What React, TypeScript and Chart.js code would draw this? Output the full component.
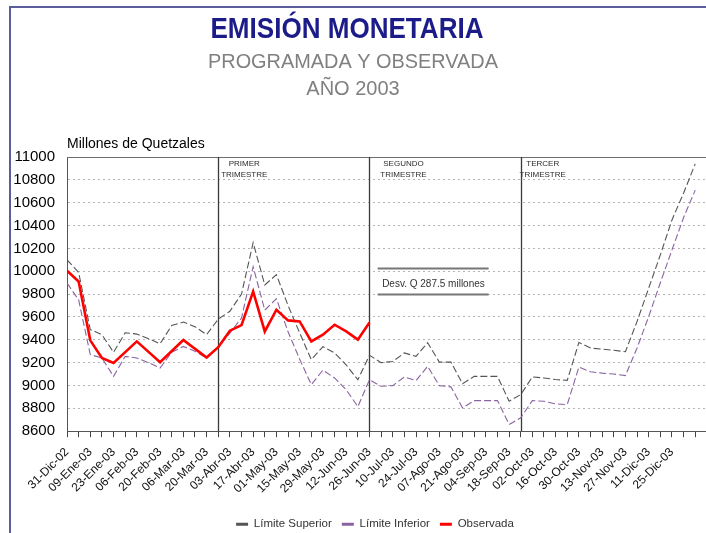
import React, { useEffect, useRef } from "react";
import { Chart, registerables } from "chart.js";

Chart.register(...registerables);

// ---------------- data ----------------
const dates = [
  "31-Dic-02", "02-Ene-03", "09-Ene-03", "16-Ene-03", "23-Ene-03", "30-Ene-03",
  "06-Feb-03", "13-Feb-03", "20-Feb-03", "27-Feb-03", "06-Mar-03", "13-Mar-03",
  "20-Mar-03", "27-Mar-03", "03-Abr-03", "10-Abr-03", "17-Abr-03", "24-Abr-03",
  "01-May-03", "08-May-03", "15-May-03", "22-May-03", "29-May-03", "05-Jun-03",
  "12-Jun-03", "19-Jun-03", "26-Jun-03", "03-Jul-03", "10-Jul-03", "17-Jul-03",
  "24-Jul-03", "31-Jul-03", "07-Ago-03", "14-Ago-03", "21-Ago-03", "28-Ago-03",
  "04-Sep-03", "11-Sep-03", "18-Sep-03", "25-Sep-03", "02-Oct-03", "09-Oct-03",
  "16-Oct-03", "23-Oct-03", "30-Oct-03", "06-Nov-03", "13-Nov-03", "20-Nov-03",
  "27-Nov-03", "04-Dic-03", "11-Dic-03", "18-Dic-03", "25-Dic-03", "30-Dic-03",
  "31-Dic-03",
];
const lastLabelled = "25-Dic-03";

const limiteSuperior = [
  10100, 9990, 9490, 9445, 9290, 9462, 9450, 9410, 9365, 9525, 9555, 9515,
  9445, 9580, 9650, 9800, 10250, 9880, 9970, 9700, 9460, 9226, 9340, 9285,
  9180, 9050, 9265, 9200, 9210, 9285, 9255, 9375, 9205, 9205, 9015, 9080,
  9080, 9080, 8862, 8920, 9075, 9066, 9052, 9045, 9377, 9328, 9318, 9308,
  9296, 9561, 9852, 10143, 10449, 10685, 10940,
];

const limiteInferior = [
  9896, 9750, 9270, 9241, 9080, 9255, 9241, 9200, 9153, 9290, 9342, 9300,
  9241, 9335, 9459, 9590, 10040, 9660, 9760, 9470, 9230, 9008, 9135, 9066,
  8962, 8815, 9050, 8993, 8999, 9075, 9043, 9168, 8999, 8988, 8804, 8868,
  8868, 8868, 8659, 8717, 8868, 8862, 8839, 8833, 9162, 9120, 9108, 9100,
  9087, 9328, 9604, 9899, 10187, 10470, 10710,
];

const observada: (number | null)[] = [
  10005, 9910, 9395, 9241, 9197, null, 9386, null, 9203, null, 9398, null,
  9245, 9335, 9480, 9528, 9823, 9473, 9663, 9570, 9561, 9386, 9445, 9532,
  9473, 9401, 9552,
];

const seriesNames = ["Límite Superior", "Límite Inferior", "Observada"];
const yMin = 8600;
const yMax = 11000;
const yStep = 200;

const quarterEnds = ["27-Mar-03", "26-Jun-03", "25-Sep-03"];
const quarterNames = [
  ["PRIMER", "TRIMESTRE"],
  ["SEGUNDO", "TRIMESTRE"],
  ["TERCER", "TRIMESTRE"],
];
const titleText = "EMISIÓN MONETARIA";
const subtitleLines = ["PROGRAMADA Y OBSERVADA", "AÑO 2003"];
const unitLabel = "Millones de Quetzales";
const deviationNote = "Desv. Q 287.5 millones";

// ---------------- styling / layout ----------------
const FONT = '"Liberation Sans", Arial, Helvetica, sans-serif';
const quarterLabelOffsets = [26, 34, 22];

const decorPlugin = {
  id: "decor",
  beforeDatasetsDraw(chart: any) {
    const { ctx, chartArea: a, scales } = chart;
    const x = scales.x;
    const y = scales.y;
    ctx.save();
    // top border of plot area
    ctx.strokeStyle = "#6e6e6e";
    ctx.lineWidth = 1;
    ctx.beginPath();
    ctx.moveTo(a.left, a.top + 0.5);
    ctx.lineTo(a.right, a.top + 0.5);
    ctx.stroke();

    // quarter separators
    ctx.strokeStyle = "#3a3a3a";
    ctx.lineWidth = 1.3;
    quarterEnds.forEach((d) => {
      const px = Math.round(x.getPixelForValue(dates.indexOf(d))) + 0.5;
      ctx.beginPath();
      ctx.moveTo(px, a.top);
      ctx.lineTo(px, a.bottom);
      ctx.stroke();
    });

    // deviation note box lines
    const x0 = x.getPixelForValue(26.7);
    const x1 = x.getPixelForValue(36.24);
    const yA = Math.round(y.getPixelForValue(10027)) + 0.5;
    const yB = Math.round(y.getPixelForValue(9800)) + 0.5;
    ctx.strokeStyle = "#777777";
    ctx.lineWidth = 2;
    ctx.beginPath();
    ctx.moveTo(x0, yA);
    ctx.lineTo(x1, yA);
    ctx.moveTo(x0, yB);
    ctx.lineTo(x1, yB);
    ctx.stroke();
    ctx.restore();
  },
  afterDraw(chart: any) {
    const { ctx, chartArea: a, scales } = chart;
    const x = scales.x;
    const y = scales.y;
    ctx.save();
    // titles
    ctx.textAlign = "center";
    ctx.textBaseline = "alphabetic";
    ctx.fillStyle = "#1b1b8a";
    ctx.font = `bold 30px ${FONT}`;
    ctx.fillText(titleText, 347, 38, 273);
    ctx.fillStyle = "#808080";
    ctx.font = `20px ${FONT}`;
    ctx.fillText(subtitleLines[0], 353, 68, 290);
    ctx.fillText(subtitleLines[1], 353, 95);

    // unit label
    ctx.textAlign = "left";
    ctx.fillStyle = "#000000";
    ctx.font = `14px ${FONT}`;
    ctx.fillText(unitLabel, a.left, 147.5);

    // quarter labels
    ctx.textAlign = "center";
    ctx.fillStyle = "#2a2a2a";
    ctx.font = `8px ${FONT}`;
    quarterEnds.forEach((d, k) => {
      const px = x.getPixelForValue(dates.indexOf(d)) + quarterLabelOffsets[k];
      ctx.fillText(quarterNames[k][0], px, a.top + 8.5);
      ctx.fillText(quarterNames[k][1], px, a.top + 19.5);
    });

    // deviation note text
    ctx.fillStyle = "#333333";
    ctx.font = `10px ${FONT}`;
    ctx.textBaseline = "middle";
    ctx.fillText(deviationNote, x.getPixelForValue(31.5), y.getPixelForValue(9890));
    ctx.restore();
  },
};

export default function App() {
  const canvasRef = useRef<HTMLCanvasElement | null>(null);

  useEffect(() => {
    document.body.style.margin = "0";
    const canvas = canvasRef.current;
    if (!canvas) return;
    Chart.defaults.font.family = FONT;

    const toPoints = (arr: (number | null)[]) =>
      arr.map((v, i) => ({ x: i, y: v }));

    const lastIdx = dates.indexOf(lastLabelled);

    const chart = new Chart(canvas, {
      type: "line",
      data: {
        datasets: [
          {
            label: seriesNames[0],
            data: toPoints(limiteSuperior) as any,
            borderColor: "#555555",
            backgroundColor: "#555555",
            borderWidth: 1.1,
            borderDash: [7, 3],
            pointRadius: 0,
            tension: 0,
            order: 1,
          },
          {
            label: seriesNames[1],
            data: toPoints(limiteInferior) as any,
            borderColor: "#8a63a0",
            backgroundColor: "#8a63a0",
            borderWidth: 1.1,
            borderDash: [7, 3],
            pointRadius: 0,
            tension: 0,
            order: 1,
          },
          {
            label: seriesNames[2],
            data: toPoints(observada) as any,
            borderColor: "#ff0000",
            backgroundColor: "#ff0000",
            borderWidth: 2.6,
            pointRadius: 0,
            tension: 0,
            spanGaps: true,
            order: 0,
          },
        ],
      },
      options: {
        animation: false,
        responsive: false,
        devicePixelRatio: 1,
        spanGaps: true,
        layout: { padding: { top: 157, left: 0, right: 10, bottom: 0 } },
        plugins: {
          title: { display: false },
          tooltip: { enabled: false },
          legend: {
            position: "bottom",
            labels: {
              boxWidth: 12,
              boxHeight: 3,
              padding: 10,
              color: "#333333",
              font: { size: 11.5 },
              sort: (a: any, b: any) => a.datasetIndex - b.datasetIndex,
              generateLabels: (c: any) =>
                (Chart.defaults.plugins.legend.labels as any)
                  .generateLabels(c)
                  .map((l: any) => ({
                    ...l,
                    fillStyle: l.strokeStyle,
                    lineWidth: 0,
                    lineDash: [],
                  })),
            },
          },
        },
        scales: {
          x: {
            type: "linear",
            min: 0,
            max: 58.28,
            afterFit: (s: any) => {
              s.height = 77.3;
            },
            grid: {
              display: true,
              drawOnChartArea: false,
              drawTicks: true,
              tickLength: 6,
              color: "#444444",
            },
            border: { display: true, color: "#555555", width: 1 },
            ticks: {
              stepSize: 1,
              autoSkip: false,
              includeBounds: false,
              maxTicksLimit: 200,
              minRotation: 45,
              maxRotation: 45,
              padding: 8,
              color: "#111111",
              font: { size: 12 },
              callback: (v: any) => {
                const i = Math.round(Number(v));
                return i % 2 === 0 && i <= lastIdx ? dates[i] : "";
              },
            },
          },
          y: {
            min: yMin,
            max: yMax,
            afterFit: (s: any) => {
              s.width = 67;
            },
            grid: {
              color: "#b4b4b4",
              lineWidth: 1,
              drawTicks: false,
            },
            border: { display: true, color: "#555555", width: 1, dash: [2, 3] },
            ticks: {
              stepSize: yStep,
              padding: 12,
              color: "#000000",
              font: { size: 15 },
              callback: (v: any) => String(v),
            },
          },
        },
      },
      plugins: [decorPlugin],
    });
    return () => chart.destroy();
  }, []);

  return (
    <div
      style={{
        position: "relative",
        width: 706,
        height: 533,
        overflow: "hidden",
        background: "#ffffff",
      }}
    >
      <canvas
        ref={canvasRef}
        width={760}
        height={540}
        style={{ position: "absolute", left: 0, top: 0, width: 760, height: 540 }}
      />
      <div
        style={{
          position: "absolute",
          left: 9,
          top: 6,
          width: 800,
          height: 600,
          borderLeft: "2px solid #5c5c9c",
          borderTop: "2px solid #5c5c9c",
          pointerEvents: "none",
        }}
      />
    </div>
  );
}
